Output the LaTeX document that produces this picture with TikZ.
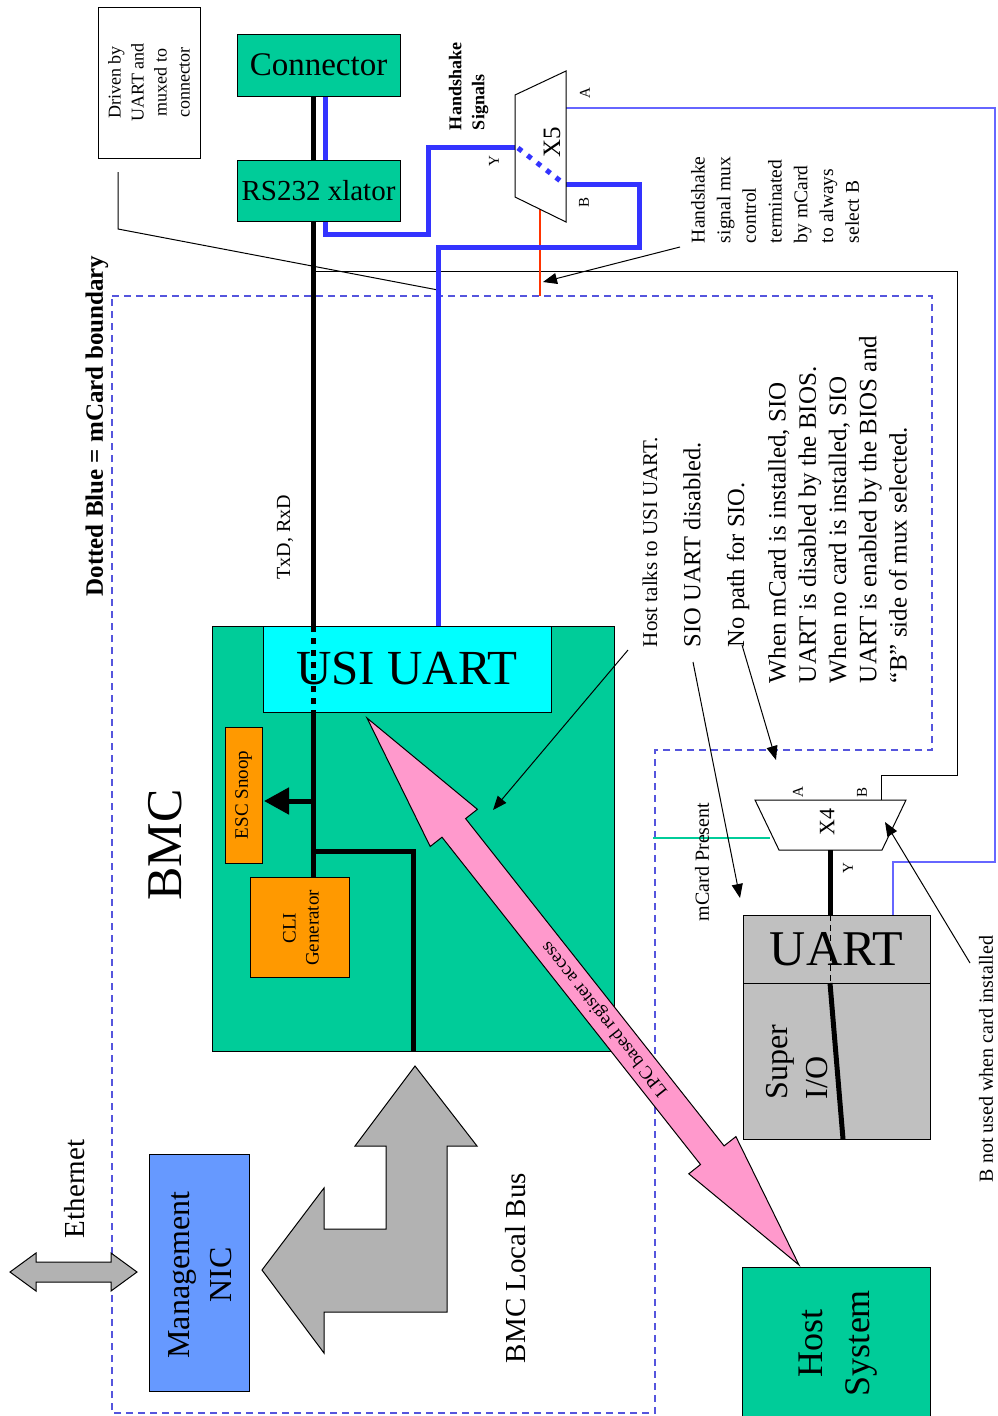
\documentclass[tikz,border=0pt]{standalone}
\usepackage{fontspec}
\setmainfont{Liberation Serif}
\usetikzlibrary{arrows.meta}
\definecolor{mgreen}{RGB}{0,204,153}
\definecolor{mcyan}{RGB}{0,255,255}
\definecolor{morange}{RGB}{255,153,0}
\definecolor{mnic}{RGB}{102,153,255}
\definecolor{mgray}{RGB}{178,178,178}
\definecolor{mgrayb}{RGB}{192,192,192}
\definecolor{mpink}{RGB}{255,153,204}
\definecolor{tblue}{RGB}{51,51,255}
\definecolor{lblue}{RGB}{102,102,255}
\definecolor{bnd}{RGB}{85,85,221}
\definecolor{mred}{RGB}{255,51,0}
\newcommand\fsz[2]{\fontsize{#1}{#2}\selectfont}
\begin{document}
\begin{tikzpicture}[x=1pt,y=-1pt,
  box/.style={draw=black,line width=1pt,inner sep=0pt,outer sep=0pt},
  txt/.style={inner sep=0pt,outer sep=0pt},
  rtxt/.style={inner sep=0pt,outer sep=0pt,rotate=90},
  heavy/.style={draw=black,line width=5pt},
  hblue/.style={draw=tblue,line width=5pt},
  fine/.style={draw=black,line width=1pt},
  ptr/.style={draw=black,line width=1pt,-{Triangle[length=14pt,width=11pt]}},
  bound/.style={draw=bnd,line width=1.3pt,dash pattern=on 7pt off 5pt},
  gshape/.style={draw=black,line width=1pt,fill=mgray},
]
\useasboundingbox (0,0) rectangle (998,1416);
\fill[white] (0,0) rectangle (998,1416);

% mCard boundary
\draw[bound] (112,296) -- (932,296) -- (932,750) -- (655,750) -- (655,1413) -- (112,1413) -- cycle;
\node[rtxt,font=\bfseries\fsz{25}{30}] (bndlbl) at (97,426) {Dotted Blue = mCard boundary};

% coordinates
\coordinate (d1) at (118,172); \coordinate (d2) at (118,229); \coordinate (d3) at (438,290);
\coordinate (h0) at (313,271); \coordinate (h1) at (957,271); \coordinate (h2) at (957,775);
\coordinate (h3) at (881,775); \coordinate (x4b) at (881,800);
\coordinate (x5a) at (566,108); \coordinate (b1) at (995,108); \coordinate (b2) at (995,862);
\coordinate (b3) at (893,862); \coordinate (b4) at (893,915);
\coordinate (r1) at (540,209); \coordinate (r2) at (540,296);
\coordinate (g1) at (653,838); \coordinate (g2) at (770,838);

% thin lines
\draw[fine] (d1) -- (d2) -- (d3);
\draw[fine] (h0) -- (h1) -- (h2) -- (h3) -- (x4b);
\draw[lblue,line width=1.3pt] (x5a) -- (b1) -- (b2) -- (b3) -- (b4);
\draw[mred,line width=1.3pt] (r1) -- (r2);
\draw[mgreen,line width=2.5pt] (g1) -- (g2);

% thick signal lines behind boxes
\coordinate (t0) at (313,96); \coordinate (t1) at (313,626);
\draw[heavy] (t0) -- (t1);
\coordinate (u0) at (325,96); \coordinate (u1) at (325,234); \coordinate (u2) at (428,234);
\coordinate (u3) at (428,147); \coordinate (x5y) at (515,147);
\draw[hblue,line join=miter] (u0) -- (u1) -- (u2) -- (u3) -- (x5y);
\coordinate (x5b) at (566,184); \coordinate (v1) at (639,184); \coordinate (v2) at (639,247);
\coordinate (v3) at (438,247); \coordinate (v4) at (438,626);
\draw[hblue,line join=miter] (x5b) -- (v1) -- (v2) -- (v3) -- (v4);

% top boxes
\node[box,minimum width=102pt,minimum height=151pt] (drv) at (149,82.5) {};
\node[rtxt,align=center,font=\fsz{18}{23}] at (drv) {Driven by\\UART and\\muxed to\\connector};
\node[box,fill=mgreen,minimum width=163pt,minimum height=62pt,font=\fsz{33}{36}] (conn) at (318.5,65) {Connector};
\node[box,fill=mgreen,minimum width=163pt,minimum height=61pt,font=\fsz{29}{32}] (rs) at (318.5,190.5) {RS232 xlator};

% X5 mux
\draw[fill=white,line width=1pt] (515,95) -- (566,71) -- (566,222) -- (515,197) -- cycle;
\draw[tblue,line width=5pt,dash pattern=on 5pt off 7pt] (518,148) -- (563,183);
\node[rtxt,font=\fsz{25}{28}] (x5) at (552,142) {X5};
\node[rtxt,font=\fsz{15}{18}] at (585,93) {A};
\node[rtxt,font=\fsz{15}{18}] at (584,202) {B};
\node[rtxt,font=\fsz{15}{18}] at (494,161) {Y};
\node[rtxt,anchor=west,align=left,font=\bfseries\fsz{18}{23}] at (468.5,130) {Handshake\\Signals};

% handshake note
\node[rtxt,anchor=west,align=left,font=\fsz{19.5}{25.7}] (hsnote) at (775,243) {Handshake\\signal mux\\control\\terminated\\by mCard\\to always\\select B};
\coordinate (hs0) at (680,247); \coordinate (hs1) at (543,282);
\draw[ptr] (hs0) -- (hs1);

% TxD
\node[rtxt,font=\fsz{20}{24}] at (285,537) {TxD, RxD};

% BMC
\node[rtxt,font=\fsz{50}{56}] at (165,845) {BMC};
\node[box,fill=mgreen,minimum width=402pt,minimum height=425pt] (bmc) at (413,838.5) {};
\node[box,fill=mcyan,minimum width=288pt,minimum height=86pt,font=\fsz{49}{52}] (usi) at (407,669) {USI UART};
\node[box,fill=morange,minimum width=37pt,minimum height=136pt] (esc) at (243.5,795) {};
\node[rtxt,font=\fsz{19}{22}] at (esc) {ESC Snoop};
\node[box,fill=morange,minimum width=99pt,minimum height=100pt] (cli) at (299.5,927) {};
\node[rtxt,align=center,font=\fsz{19}{23}] at (301,928) {CLI\\Generator};

\coordinate (w0) at (313,712); \coordinate (w1) at (313,877); \coordinate (w2) at (313,851);
\coordinate (w3) at (413,851); \coordinate (w4) at (413,1051); \coordinate (w5) at (313,801);
\coordinate (w6) at (264,801);
\draw[heavy,dash pattern=on 6pt off 6pt] (t1) -- (w0);
\draw[heavy] (w0) -- (w1);
\draw[heavy,line join=miter] (w2) -- (w3) -- (w4);
\draw[heavy,-{Triangle[length=25pt,width=26pt]}] (w5) -- (w6);

% LPC pink arrow
\draw[line width=1pt,fill=mpink] (367,718) -- (477.4,809.3) -- (465.6,818.6) -- (724.1,1145.9)
  -- (735.9,1136.6) -- (799,1265) -- (688.8,1173.8) -- (700.5,1164.5) -- (442.0,837.2)
  -- (430.2,846.5) -- cycle;
\node[txt,rotate=128.3,font=\fsz{18.5}{22}] at (605,1019) {LPC based register access};

% right notes
\node[rtxt,anchor=west,font=\fsz{21}{24}] (n1) at (650,647) {Host talks to USI UART.};
\node[rtxt,anchor=west,font=\fsz{24.5}{28}] (n2) at (692,647) {SIO UART disabled.};
\node[rtxt,anchor=west,font=\fsz{24.5}{28}] (n3) at (738,647) {No path for SIO.};
\node[rtxt,anchor=west,align=left,font=\fsz{25}{30.25}] (n4) at (837.5,683) {When mCard is installed, SIO\\UART is disabled by the BIOS.\\When no card is installed, SIO\\UART is enabled by the BIOS and\\``B'' side of mux selected.};
\coordinate (a1) at (628,650); \coordinate (a2) at (493,810);
\draw[ptr] (a1) -- (a2);
\coordinate (a3) at (693,662); \coordinate (a4) at (740,898);
\draw[ptr] (a3) -- (a4);
\coordinate (a5) at (742,645); \coordinate (a6) at (776,760);
\draw[ptr] (a5) -- (a6);

% X4 mux
\node[rtxt,font=\fsz{20}{24}] at (702,862) {mCard Present};
\coordinate (x4y) at (830,850);
\draw[fill=white,line width=1pt] (755,800) -- (906,800) -- (882,850) -- (779,850) -- cycle;
\node[rtxt,font=\fsz{22}{26}] (x4) at (827,822) {X4};
\node[rtxt,font=\fsz{15}{18}] at (798,792) {A};
\node[rtxt,font=\fsz{15}{18}] at (862,792) {B};
\node[rtxt,font=\fsz{15}{18}] at (848,868) {Y};
\coordinate (a7) at (970,963); \coordinate (a8) at (885,822);
\draw[ptr] (a7) -- (a8);
\node[rtxt,font=\fsz{20}{24}] at (986,1059) {B not used when card installed};

% UART / Super I/O
\node[box,fill=mgrayb,minimum width=187pt,minimum height=68pt,font=\fsz{50}{54}] (uart) at (836.5,949) {UART};
\node[box,fill=mgrayb,minimum width=187pt,minimum height=156pt] (sio) at (836.5,1061) {};
\node[rtxt,anchor=west,align=left,font=\fsz{32}{40}] at (797,1099) {Super\\I/O};
\coordinate (s0) at (830,915); \coordinate (s1) at (830,983); \coordinate (s2) at (843,1139);
\draw[heavy] (x4y) -- (s0);
\draw[line width=1pt,dash pattern=on 6pt off 4pt] (s0) -- (s1);
\draw[heavy] (s1) -- (s2);

% Host system
\node[box,fill=mgreen,minimum width=188pt,minimum height=149pt] (host) at (836,1341.5) {};
\node[rtxt,align=center,font=\fsz{36}{47}] at (838,1343) {Host\\System};

% BMC local bus arrow
\draw[gshape] (415,1066) -- (477,1146) -- (447,1146) -- (447,1312) -- (324,1312) -- (324,1353)
  -- (262,1270) -- (324,1188) -- (324,1229) -- (386,1229) -- (386,1146) -- (355,1146) -- cycle;
\node[rtxt,font=\fsz{29}{32}] at (516,1268) {BMC Local Bus};

% Management NIC
\node[box,fill=mnic,minimum width=100pt,minimum height=237pt] (nic) at (199,1272.5) {};
\node[rtxt,align=center,font=\fsz{32}{42}] at (200,1275) {Management\\NIC};

% Ethernet
\draw[gshape] (10,1272) -- (36,1253) -- (36,1262) -- (111,1262) -- (111,1253) -- (137,1272)
  -- (111,1291) -- (111,1282) -- (36,1282) -- (36,1291) -- cycle;
\node[rtxt,font=\fsz{29}{32}] at (75,1189) {Ethernet};
\end{tikzpicture}
\end{document}
